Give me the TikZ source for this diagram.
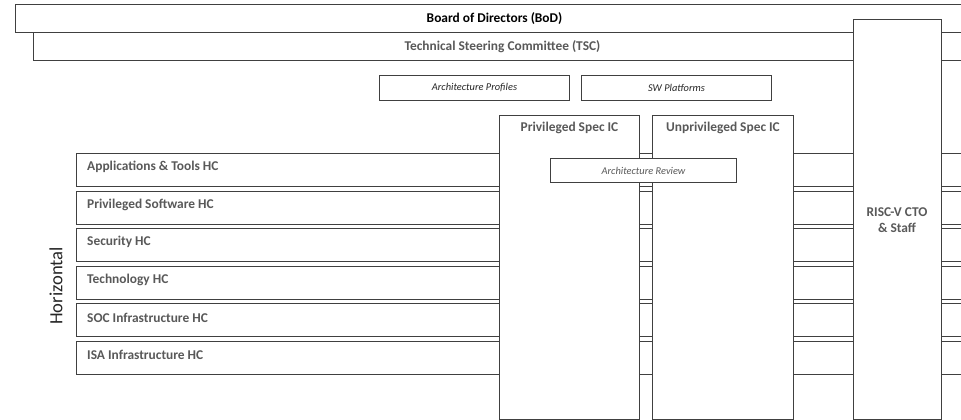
\documentclass[tikz,border=0pt]{standalone}
\usepackage{fontspec}
\setmainfont{Carlito}
\definecolor{linec}{HTML}{404040}
\definecolor{txtgray}{HTML}{595959}
\definecolor{txtdark}{HTML}{262626}
\begin{document}
\begin{tikzpicture}[x=1pt,y=-1pt,
  box/.style={draw=linec, line width=1pt, fill=white, rectangle, inner sep=0pt, anchor=north west},
  boldtxt/.style={font=\bfseries\fontsize{13.4}{16}\selectfont, text=txtgray, inner sep=0pt},
  itxt/.style={font=\itshape\fontsize{10.4}{12}\selectfont, text=txtdark, inner sep=0pt},
  hclabel/.style={boldtxt, anchor=west}]
\useasboundingbox (0,0) rectangle (961,420);
\clip (0,0) rectangle (961,420);
% top bars
\node[box, minimum width=958, minimum height=28] (bod) at (15,4) {};
\node[boldtxt, text=black] (bodt) at (bod.center) {Board of Directors (BoD)};
\node[box, minimum width=938, minimum height=28] (tsc) at (33,32) {};
\node[boldtxt] (tsct) at (tsc.center) {Technical Steering Committee (TSC)};
% horizontal committees
\node[box, minimum width=900, minimum height=33] (r1) at (76,153) {};
\node[box, minimum width=900, minimum height=33] (r2) at (76,190.6) {};
\node[box, minimum width=900, minimum height=33] (r3) at (76,228.2) {};
\node[box, minimum width=900, minimum height=33] (r4) at (76,265.8) {};
\node[box, minimum width=900, minimum height=33] (r5) at (76,303.4) {};
\node[box, minimum width=900, minimum height=33] (r6) at (76,341) {};
\node[hclabel] (r1t) at ([xshift=11pt,yshift=-14pt]r1.north west) {Applications \& Tools HC};
\node[hclabel] (r2t) at ([xshift=11pt,yshift=-14pt]r2.north west) {Privileged Software HC};
\node[hclabel] (r3t) at ([xshift=11pt,yshift=-14pt]r3.north west) {Security HC};
\node[hclabel] (r4t) at ([xshift=11pt,yshift=-14pt]r4.north west) {Technology HC};
\node[hclabel] (r5t) at ([xshift=11pt,yshift=-14pt]r5.north west) {SOC Infrastructure HC};
\node[hclabel] (r6t) at ([xshift=11pt,yshift=-14pt]r6.north west) {ISA Infrastructure HC};
\node[font=\fontsize{18.6}{20}\selectfont, text=txtdark, rotate=90, inner sep=0pt] (horiz) at (56,286) {Horizontal};
% interest committees
\node[box, minimum width=140, minimum height=304] (pic) at (499,115) {};
\node[boldtxt] (pict) at ([yshift=-13pt]pic.north) {Privileged Spec IC};
\node[box, minimum width=141, minimum height=304] (uic) at (652,115) {};
\node[boldtxt] (uict) at ([yshift=-13pt]uic.north) {Unprivileged Spec IC};
% CTO
\node[box, minimum width=88, minimum height=400] (cto) at (853,19) {};
\node[boldtxt, align=center] (ctot) at (897,220) {RISC-V CTO\\\& Staff};
% small boxes
\node[box, minimum width=190, minimum height=25] (ap) at (379,75) {};
\node[itxt] (apt) at (ap.center) {Architecture Profiles};
\node[box, minimum width=190, minimum height=25] (swp) at (581,75) {};
\node[itxt] (swpt) at (swp.center) {SW Platforms};
\node[box, minimum width=186, minimum height=24] (ar) at (550,158) {};
\node[itxt, text=txtgray] (art) at (ar.center) {Architecture Review};
\end{tikzpicture}
\end{document}
